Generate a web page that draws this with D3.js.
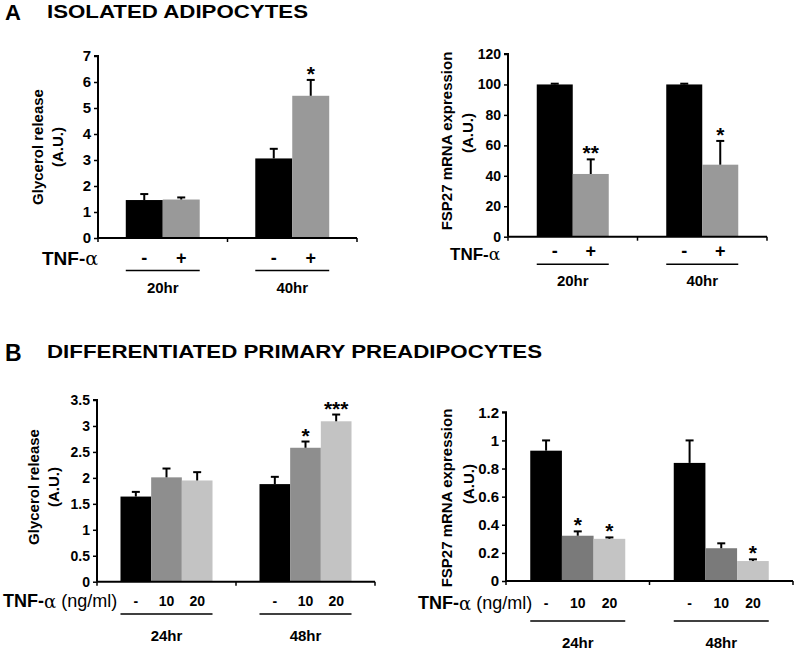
<!DOCTYPE html>
<html><head><meta charset="utf-8">
<script src="https://cdn.jsdelivr.net/npm/d3@7"></script>
<style>
body{margin:0;background:#fff;}
text{font-family:"Liberation Sans",Arial,Helvetica,sans-serif;}
</style></head>
<body>
<svg id="c" width="797" height="649"></svg>
<script>
// ---- data ----
const groupsA = ["20hr", "40hr"];
const subA = ["-", "+"];
const glycerolA = [[1.46, 1.48], [3.06, 5.47]];
const glycerolAErr = [[0.23, 0.08], [0.37, 0.61]];
const glycerolASig = [["", ""], ["", "*"]];
const fspA = [[100, 41.2], [100, 47.3]];
const fspAErr = [[0.5, 9.6], [0.5, 15.6]];
const fspASig = [["", "**"], ["", "*"]];
const ticksA1 = [0, 1, 2, 3, 4, 5, 6, 7];
const ticksA2 = [0, 20, 40, 60, 80, 100, 120];

const groupsB = ["24hr", "48hr"];
const subB = ["-", "10", "20"];
const glycerolB = [[1.64, 2.01, 1.95], [1.88, 2.58, 3.09]];
const glycerolBErr = [[0.09, 0.17, 0.16], [0.14, 0.12, 0.13]];
const glycerolBSig = [["", "", ""], ["", "*", "***"]];
const fspB = [[0.927, 0.322, 0.30], [0.84, 0.233, 0.142]];
const fspBErr = [[0.073, 0.031, 0.01], [0.16, 0.035, 0.012]];
const fspBSig = [["", "*", "*"], ["", "", "*"]];
const ticksB1 = [0, 0.5, 1, 1.5, 2, 2.5, 3, 3.5];
const ticksB2 = [0, 0.2, 0.4, 0.6, 0.8, 1, 1.2];

const svg = d3.select("#c");

function panel(o) {
  const g = svg.append("g");
  const x = d3.scaleBand().domain(o.groups).range([o.x0, o.x1])
    .paddingInner(o.pad).paddingOuter(o.pad / 2);
  const xs = d3.scaleBand().domain(o.subs).range([0, x.bandwidth()]);
  const y = d3.scaleLinear().domain([0, o.ymax]).range([o.y0, o.y1]);

  o.groups.forEach((gr, gi) => {
    o.subs.forEach((s, si) => {
      const v = o.values[gi][si], e = o.err[gi][si];
      const bx = x(gr) + xs(s), bw = xs.bandwidth();
      g.append("rect").attr("x", bx).attr("y", y(v))
        .attr("width", bw).attr("height", y(0) - y(v))
        .attr("fill", o.colors[si]);
      const cx = bx + bw / 2;
      g.append("line").attr("x1", cx).attr("x2", cx)
        .attr("y1", y(v)).attr("y2", y(v + e))
        .attr("stroke", "#000").attr("stroke-width", 2);
      g.append("line").attr("x1", cx - 4).attr("x2", cx + 4)
        .attr("y1", y(v + e)).attr("y2", y(v + e))
        .attr("stroke", "#000").attr("stroke-width", 2);
      const sig = o.sig[gi][si];
      if (sig) {
        g.append("text").attr("x", cx).attr("y", y(v + e) + 1)
          .attr("text-anchor", "middle").attr("font-size", 21)
          .attr("font-weight", "bold").text(sig);
      }
      g.append("text").attr("x", cx).attr("y", o.labY)
        .attr("text-anchor", "middle").attr("dominant-baseline", "central")
        .attr("font-size", o.subFont).attr("font-weight", "bold").text(s);
    });
    g.append("line").attr("x1", x(gr)).attr("x2", x(gr) + x.bandwidth())
      .attr("y1", o.lineY).attr("y2", o.lineY)
      .attr("stroke", "#000").attr("stroke-width", 1.4);
    g.append("text").attr("x", x(gr) + x.bandwidth() / 2).attr("y", o.grpY)
      .attr("text-anchor", "middle").attr("dominant-baseline", "central")
      .attr("font-size", 15).attr("font-weight", "bold").text(gr);
  });

  const ya = g.append("g").attr("transform", `translate(${o.x0},0)`)
    .call(d3.axisLeft(y).tickValues(o.ticks).tickSize(4).tickPadding(3)
      .tickFormat(d => String(d)));
  ya.select(".domain").attr("stroke-width", 2).attr("d", `M-4,${o.y1}H0V${o.y0}`);
  ya.selectAll(".tick line").attr("stroke-width", 1.5);
  ya.selectAll("text").attr("font-size", o.tickFont).attr("font-weight", "bold")
    .attr("font-family", '"Liberation Sans",Arial,sans-serif').attr("fill", "#000");

  const xt = [o.x0, x(o.groups[1]) - x.step() * o.pad / 2, o.x1];
  g.append("line").attr("x1", o.x0).attr("x2", o.x1)
    .attr("y1", o.y0).attr("y2", o.y0).attr("stroke", "#000").attr("stroke-width", 2);
  xt.forEach(t => g.append("line").attr("x1", t).attr("x2", t)
    .attr("y1", o.y0).attr("y2", o.y0 + 4).attr("stroke", "#000").attr("stroke-width", 1.5));

  o.ylab.forEach(l => {
    g.append("text").attr("transform", `translate(${l.x},${l.y}) rotate(-90)`)
      .attr("text-anchor", "middle").attr("dominant-baseline", "central")
      .attr("font-size", 15).attr("font-weight", "bold").text(l.t);
  });

  const t = g.append("text").attr("x", o.tnfX).attr("y", o.tnfY ?? o.labY)
    .attr("dominant-baseline", "central").attr("font-size", o.tnfFont);
  t.append("tspan").attr("font-weight", "bold").text("TNF-");
  t.append("tspan").attr("font-family", '"DejaVu Serif",serif').text("α");
  if (o.unit) t.append("tspan").text(" (ng/ml)");
}

panel({groups: groupsA, subs: subA, values: glycerolA, err: glycerolAErr, sig: glycerolASig,
  colors: ["#000", "#999999"], x0: 98, x1: 357, pad: 0.429, ymax: 7, y0: 238, y1: 56,
  ticks: ticksA1, tickFont: 15, subFont: 18, labY: 258, lineY: 270.5, grpY: 287, tnfX: 42, tnfFont: 19,
  ylab: [{t: "Glycerol release", x: 37, y: 147}, {t: "(A.U.)", x: 57, y: 147}]});

panel({groups: groupsA, subs: subA, values: fspA, err: fspAErr, sig: fspASig,
  colors: ["#000", "#999999"], x0: 508, x1: 767, pad: 0.444, ymax: 120, y0: 236.7, y1: 54,
  ticks: ticksA2, tickFont: 14, subFont: 18, labY: 251, tnfY: 254, lineY: 264.3, grpY: 280, tnfX: 450, tnfFont: 17,
  ylab: [{t: "FSP27 mRNA expression", x: 446, y: 141}, {t: "(A.U.)", x: 467, y: 133}]});

panel({groups: groupsB, subs: subB, values: glycerolB, err: glycerolBErr, sig: glycerolBSig,
  colors: ["#000", "#8e8e8e", "#c3c3c3"], x0: 97, x1: 375, pad: 0.338, ymax: 3.5, y0: 581.7, y1: 400,
  ticks: ticksB1, tickFont: 14, subFont: 14, labY: 601, lineY: 614, grpY: 635, tnfX: 3, tnfFont: 18, unit: true,
  ylab: [{t: "Glycerol release", x: 33, y: 487}, {t: "(A.U.)", x: 53, y: 487}]});

panel({groups: groupsB, subs: subB, values: fspB, err: fspBErr, sig: fspBSig,
  colors: ["#000", "#7a7a7a", "#c4c4c4"], x0: 506, x1: 793, pad: 0.338, ymax: 1.2, y0: 581, y1: 412.3,
  ticks: ticksB2, tickFont: 15, subFont: 14, labY: 603, lineY: 621, grpY: 642, tnfX: 418, tnfFont: 18, unit: true,
  ylab: [{t: "FSP27 mRNA expression", x: 446, y: 498}, {t: "(A.U.)", x: 468, y: 484}]});

// panel titles
svg.append("text").attr("x", 5).attr("y", 20).attr("font-size", 22).attr("font-weight", "bold").text("A");
svg.append("text").attr("x", 47).attr("y", 18).attr("font-size", 18).attr("font-weight", "bold")
  .attr("textLength", 261).attr("lengthAdjust", "spacingAndGlyphs").text("ISOLATED ADIPOCYTES");
svg.append("text").attr("x", 5).attr("y", 361).attr("font-size", 23).attr("font-weight", "bold").text("B");
svg.append("text").attr("x", 47).attr("y", 358).attr("font-size", 18).attr("font-weight", "bold")
  .attr("textLength", 495).attr("lengthAdjust", "spacingAndGlyphs").text("DIFFERENTIATED PRIMARY PREADIPOCYTES");
</script>
</body></html>
